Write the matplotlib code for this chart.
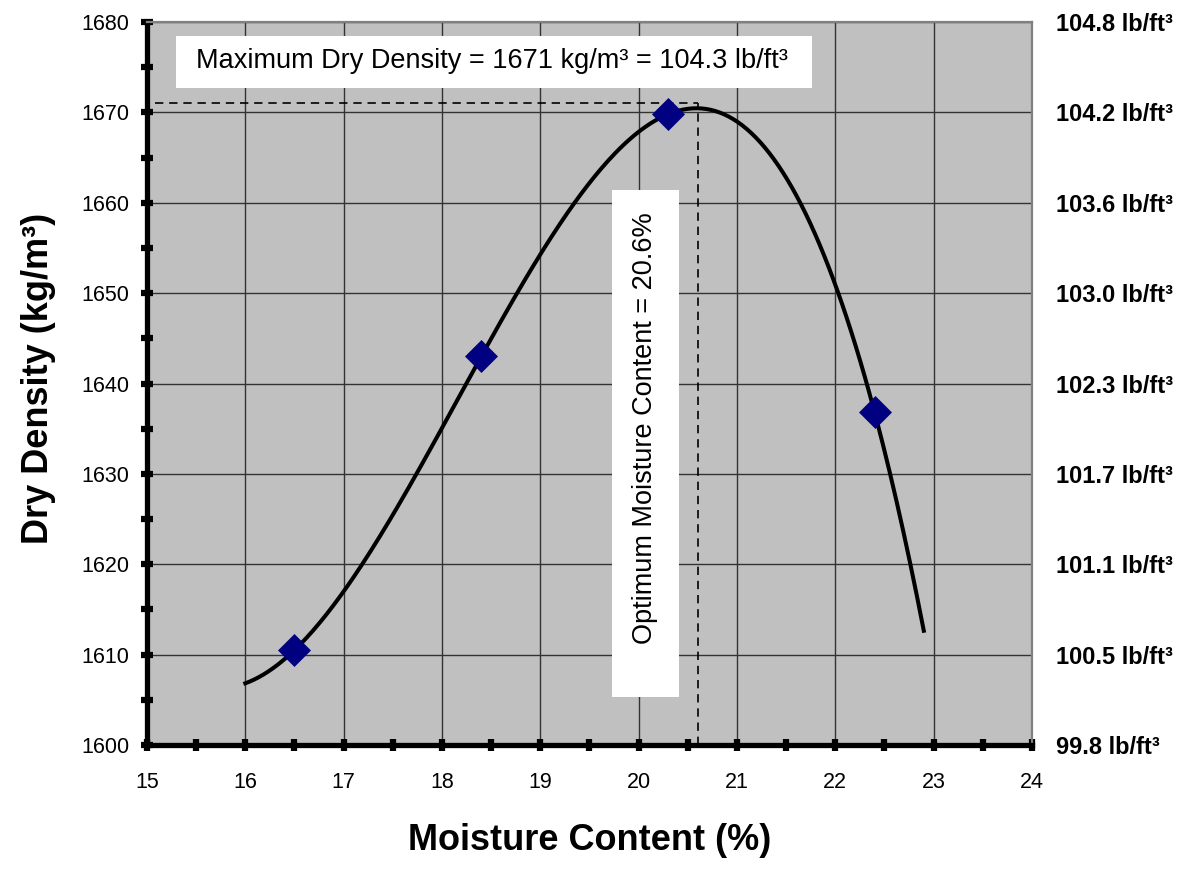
import numpy as np
import matplotlib.pyplot as plt
from matplotlib.patches import Rectangle
from matplotlib.ticker import MultipleLocator

plt.rcParams['font.family'] = ['Liberation Sans', 'DejaVu Sans']

# ===============================
# DATA
# ===============================

moisture = [16.5, 18.4, 20.3, 22.4]          # %
dry_density = [1610.5, 1643.0, 1669.8, 1636.8]  # kg/m3

# 3rd order trend line range
trend_start, trend_end = 16.0, 22.9

max_dry_density = 1671      # kg/m3
max_dry_density_lb = 104.3  # lb/ft3
optimum_moisture = 20.6     # %

# right side labels (lb/ft3) at the kg/m3 gridlines
right_ticks = [1600, 1610, 1620, 1630, 1640, 1650, 1660, 1670, 1680]
right_labels = ['99.8', '100.5', '101.1', '101.7', '102.3',
                '103.0', '103.6', '104.2', '104.8']

# ===============================
# PLOTTING
# ===============================

fig = plt.figure(figsize=(11.98, 8.90), dpi=100)
ax = fig.add_axes([0.1227, 0.1629, 0.7387, 0.8124])
ax.set_facecolor('#C0C0C0')

ax.set_xlim(15, 24)
ax.set_ylim(1600, 1680)

ax.xaxis.set_major_locator(MultipleLocator(1))
ax.xaxis.set_minor_locator(MultipleLocator(0.5))
ax.yaxis.set_major_locator(MultipleLocator(10))
ax.yaxis.set_minor_locator(MultipleLocator(5))

ax.grid(True, which='major', color='#333333', linewidth=1.0)
ax.set_axisbelow(True)

for side in ['left', 'bottom']:
    ax.spines[side].set_linewidth(3.8)
    ax.spines[side].set_color('black')
for side in ['top', 'right']:
    ax.spines[side].set_linewidth(1.6)
    ax.spines[side].set_color('#808080')

ax.tick_params(which='both', direction='inout', length=9, width=4.5, color='black')
ax.tick_params(axis='y', which='major', labelsize=15.5, pad=8)
ax.tick_params(axis='x', which='major', labelsize=15.5, pad=15)

# trend line
coef = np.polyfit(moisture, dry_density, 3)
xs = np.linspace(trend_start, trend_end, 300)
ax.plot(xs, np.polyval(coef, xs), color='black', linewidth=2.9, zorder=3)

# data points
ax.plot(moisture, dry_density, linestyle='none', marker='D', markersize=16.5,
        color='#000080', markeredgecolor='#000080', markeredgewidth=0.5, zorder=4)

# dashed guides
ax.plot([15.08, optimum_moisture], [max_dry_density, max_dry_density],
        color='black', linestyle=(0, (5, 3.5)), linewidth=1.2, zorder=2)
ax.plot([optimum_moisture, optimum_moisture], [1600, max_dry_density],
        color='black', linestyle=(0, (5, 3.5)), linewidth=1.2, zorder=2)

# annotation boxes
ax.add_patch(Rectangle((0.0328, 0.9087), 0.7186, 0.0719, transform=ax.transAxes,
                       facecolor='white', edgecolor='none', zorder=5))
ax.text(0.3898, 0.946,
        'Maximum Dry Density = %d kg/m³ = %.1f lb/ft³' % (max_dry_density, max_dry_density_lb),
        transform=ax.transAxes, ha='center', va='center', fontsize=19.5, zorder=6)

ax.add_patch(Rectangle((0.5254, 0.0664), 0.0757, 0.7012, transform=ax.transAxes,
                       facecolor='white', edgecolor='none', zorder=5))
ax.text(0.5627, 0.4385, 'Optimum Moisture Content = %.1f%%' % optimum_moisture,
        transform=ax.transAxes, ha='center', va='center', rotation=90,
        fontsize=19.5, zorder=6)

# right hand lb/ft3 labels
ax2 = ax.twinx()
ax2.set_ylim(ax.get_ylim())
ax2.set_yticks(right_ticks)
ax2.set_yticklabels([v + ' lb/ft³' for v in right_labels], fontsize=17, fontweight='bold')
ax2.tick_params(axis='y', length=0, pad=17)
for s in ax2.spines.values():
    s.set_visible(False)

fig.text(0.492, 1 - 840 / 890, 'Moisture Content (%)', ha='center', va='center',
         fontsize=26, fontweight='bold')
fig.text(0.032, 1 - 378 / 890, 'Dry Density (kg/m³)', ha='center', va='center',
         rotation=90, fontsize=26, fontweight='bold')

plt.savefig('out.png', dpi=100)
